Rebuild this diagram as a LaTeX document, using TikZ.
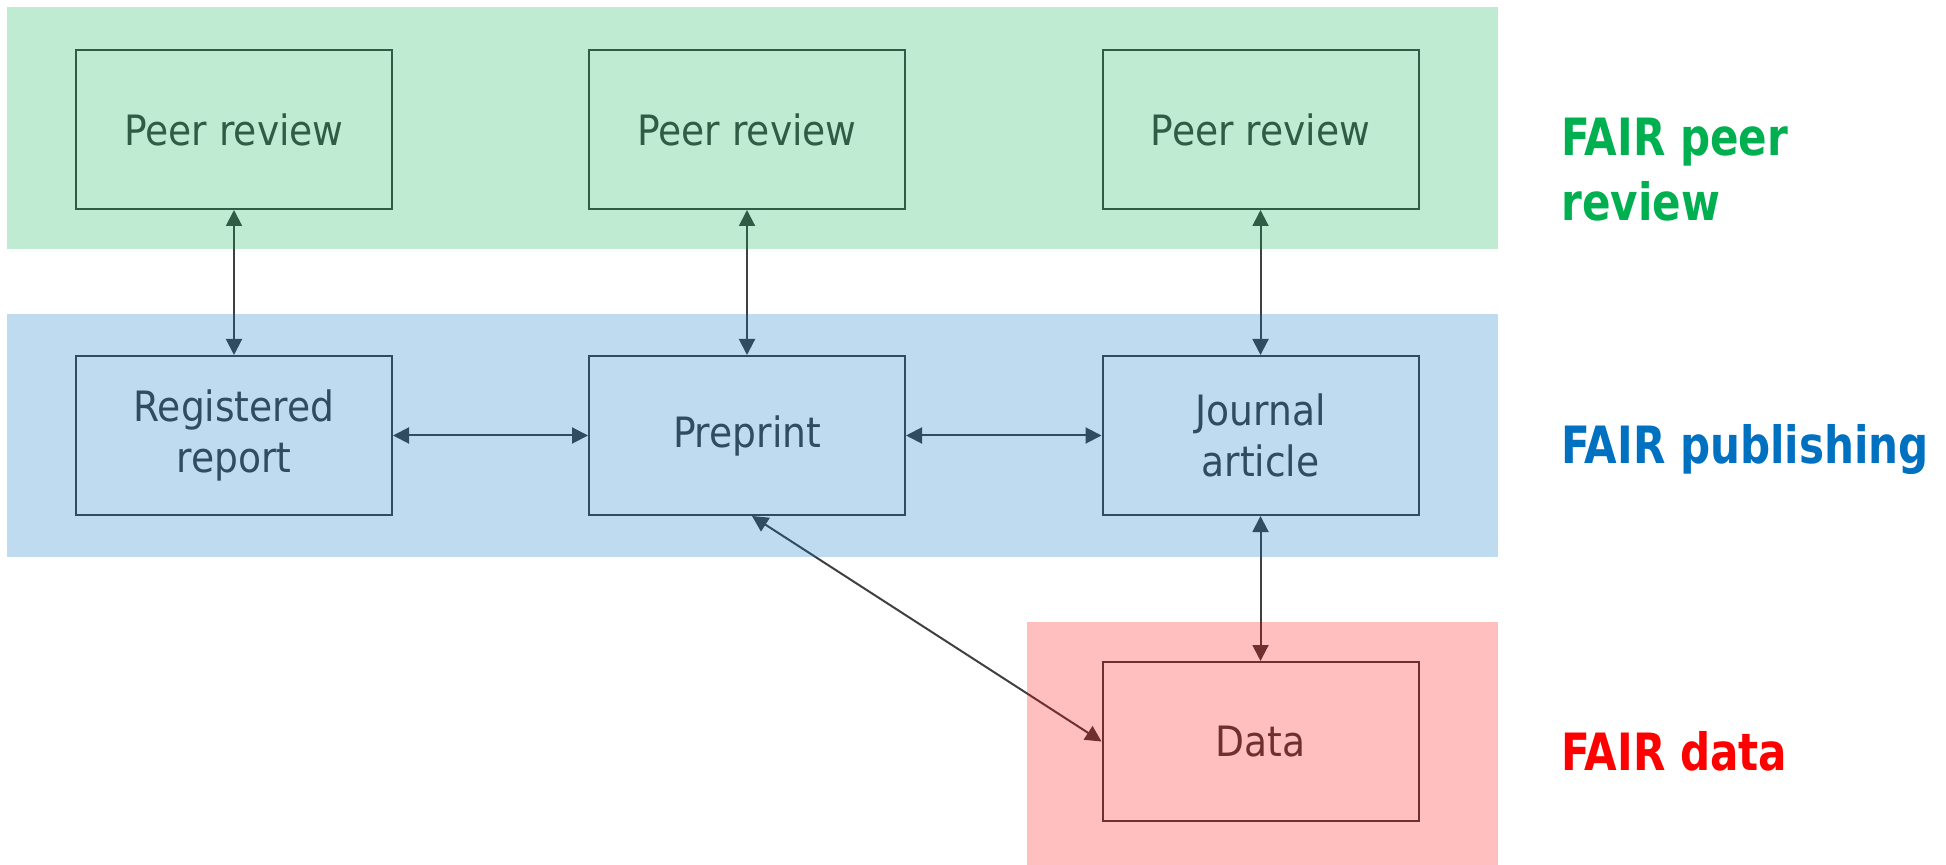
\documentclass[tikz,border=0pt]{standalone}
\usepackage{fontspec}
\setmainfont{DejaVu Sans Condensed}
\usetikzlibrary{arrows.meta}

\definecolor{ink}{HTML}{404040}
\definecolor{fairgreen}{HTML}{00B050}
\definecolor{fairblue}{HTML}{0070C0}
\definecolor{fairred}{HTML}{FF0000}

% captions are set a little narrower than the font's natural width
\newcommand{\capnarrow}[1]{\scalebox{0.91}[1]{#1}}

\tikzset{
  stagebox/.style={draw=ink, line width=1pt, minimum width=158pt, minimum height=79.5pt,
    inner sep=0pt, text=ink, align=center, font=\fontsize{20.9}{25.5}\selectfont},
  link/.style={draw=ink, line width=1pt,
    {Triangle[length=8pt,width=8pt]}-{Triangle[length=8pt,width=8pt]}},
  band/.style={fill opacity=0.25},
  tag/.style={anchor=base west, inner sep=0pt,
    font=\fontsize{25.7}{32.5}\selectfont\bfseries},
}

\begin{document}
\begin{tikzpicture}[x=0.5pt, y=-0.5pt]
  \useasboundingbox (0,0) rectangle (1946,865);

  % stages
  \node[stagebox] (prA) at (234,129.5)    {Peer review};
  \node[stagebox] (prB) at (747,129.5)    {Peer review};
  \node[stagebox] (prC) at (1260.5,129.5) {Peer review};
  \node[stagebox] (reg) at (234,435.5)    {Registered\\report};
  \node[stagebox] (pre) at (747,435.5)    {Preprint};
  \node[stagebox] (jou) at (1260.5,435.5) {Journal\\article};
  \node[stagebox] (dat) at (1260.5,741.5) {Data};

  % links
  \draw[link] (prA) -- (reg);
  \draw[link] (prB) -- (pre);
  \draw[link] (prC) -- (jou);
  \draw[link] (reg) -- (pre);
  \draw[link] (pre) -- (jou);
  \draw[link] (jou) -- (dat);
  \draw[link] ([xshift=2.5pt]pre.south) -- (dat.west);

  % translucent layers laid over the diagram
  \fill[band, fairgreen] (7,7)     rectangle (1498,249);
  \fill[band, fairblue]  (7,314)   rectangle (1498,557);
  \fill[band, fairred]   (1027,622) rectangle (1498,865);

  % layer captions
  \node[tag, text=fairgreen, align=left] (capA) at (1561,221)
    {\capnarrow{FAIR peer}\\\capnarrow{review}};
  \node[tag, text=fairblue] (capB) at (1561,463) {\capnarrow{FAIR publishing}};
  \node[tag, text=fairred]  (capC) at (1561,770) {\capnarrow{FAIR data}};
\end{tikzpicture}
\end{document}
